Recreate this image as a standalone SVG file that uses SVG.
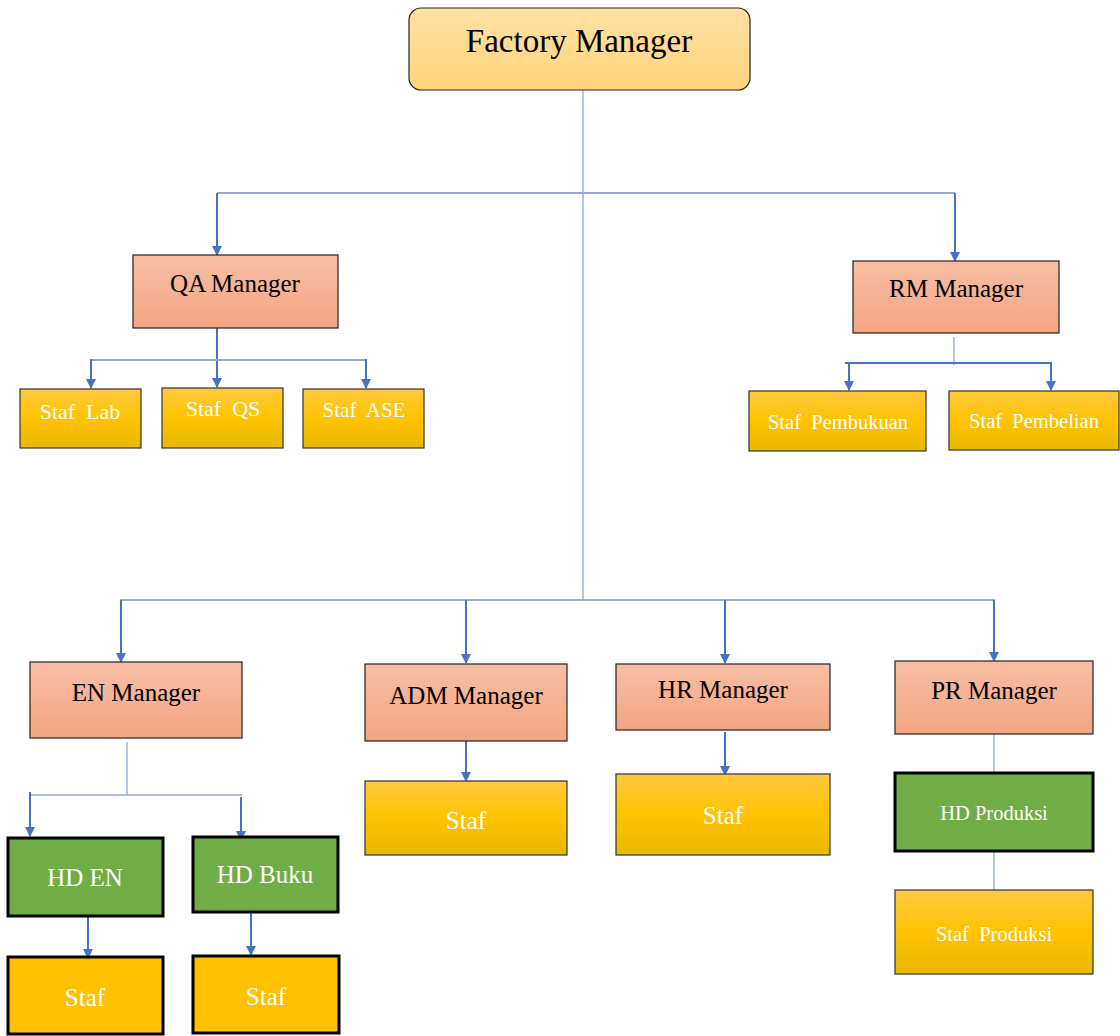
<svg xmlns="http://www.w3.org/2000/svg" width="1120" height="1036" viewBox="0 0 1120 1036">
<defs>
<linearGradient id="gTop" x1="0" y1="0" x2="0" y2="1"><stop offset="0" stop-color="#FFE1A3"/><stop offset="1" stop-color="#FFD47C"/></linearGradient>
<linearGradient id="gMgr" x1="0" y1="0" x2="0" y2="1"><stop offset="0" stop-color="#F7BEA5"/><stop offset="1" stop-color="#F4A583"/></linearGradient>
<linearGradient id="gStaf" x1="0" y1="0" x2="0" y2="1"><stop offset="0" stop-color="#FFC940"/><stop offset="0.5" stop-color="#FFC300"/><stop offset="1" stop-color="#E8B800"/></linearGradient>
<marker id="ah" markerWidth="10" markerHeight="10" refX="9" refY="5" orient="auto" markerUnits="userSpaceOnUse"><path d="M0,0 L10,5 L0,10 Z" fill="#4472C4"/></marker>
</defs>
<style>
.top{fill:url(#gTop);stroke:#222;stroke-width:1.2}
.mgr{fill:url(#gMgr);stroke:#222;stroke-width:1.2}
.staf{fill:url(#gStaf);stroke:#333;stroke-width:1.2}
.hd{fill:#70AD47;stroke:#000;stroke-width:3}
.stafb{fill:#FFC000;stroke:#000;stroke-width:3}
.tb{font-family:"Liberation Serif","Times New Roman",serif;fill:#000;text-anchor:middle}
.tw{font-family:"Liberation Serif","Times New Roman",serif;fill:#fff;text-anchor:middle}
.a{stroke:#4472C4;stroke-width:2;fill:none}
.ar{stroke:#4472C4;stroke-width:2;fill:none;marker-end:url(#ah)}
.t{stroke:#8EA9DB;stroke-width:1.3;fill:none}
.tm{stroke:#8EA9DB;stroke-width:2;fill:none}
</style>
<g id="connectors">
<line class="t" x1="583" y1="90" x2="583" y2="600"/>
<line class="tm" x1="217" y1="193" x2="955" y2="193"/>
<line class="ar" x1="217" y1="193" x2="217" y2="255"/>
<line class="ar" x1="955" y1="193" x2="955" y2="261"/>
<line class="ar" x1="217" y1="328" x2="217" y2="387"/>
<line class="tm" x1="91" y1="360" x2="366" y2="360"/>
<line class="ar" x1="91" y1="359" x2="91" y2="388"/>
<line class="ar" x1="366" y1="359" x2="366" y2="388"/>
<line class="t" x1="954" y1="337" x2="954" y2="365"/>
<line class="a" x1="845" y1="363" x2="1052" y2="363"/>
<line class="ar" x1="849" y1="362" x2="849" y2="390"/>
<line class="ar" x1="1051" y1="362" x2="1051" y2="390"/>
<line class="a" x1="120" y1="600" x2="995" y2="600" style="stroke:#6F95D6;stroke-width:1.5"/>
<line class="ar" x1="121" y1="600" x2="121" y2="662"/>
<line class="ar" x1="466" y1="600" x2="466" y2="663"/>
<line class="ar" x1="725" y1="600" x2="725" y2="663"/>
<line class="ar" x1="994" y1="600" x2="994" y2="661"/>
<line class="t" x1="127" y1="742" x2="127" y2="795"/>
<line class="t" x1="30" y1="795" x2="242" y2="795"/>
<line class="ar" x1="30" y1="792" x2="30" y2="836"/>
<line class="ar" x1="241" y1="797" x2="241" y2="840"/>
<line class="ar" x1="88" y1="916" x2="88" y2="958"/>
<line class="ar" x1="251" y1="912" x2="251" y2="955"/>
<line class="ar" x1="466" y1="739" x2="466" y2="781"/>
<line class="ar" x1="725" y1="732" x2="725" y2="775"/>
<line class="t" x1="994" y1="734" x2="994" y2="773"/>
<line class="t" x1="994" y1="851" x2="994" y2="890"/>
</g>
<g id="factory-manager"><rect class="top" x="409" y="8" width="341" height="82" rx="12"/><text class="tb" x="579" y="52" font-size="33">Factory Manager</text></g>
<g id="qa-manager"><rect class="mgr" x="133" y="255" width="205" height="73"/><text class="tb" x="235" y="292" font-size="25">QA Manager</text></g>
<g id="staf-lab"><rect class="staf" x="20" y="389" width="121" height="59"/><text class="tw" x="80" y="419" font-size="22" xml:space="preserve">Staf  Lab</text></g>
<g id="staf-qs"><rect class="staf" x="162" y="388" width="121" height="60"/><text class="tw" x="223" y="416" font-size="22" xml:space="preserve">Staf  QS</text></g>
<g id="staf-ase"><rect class="staf" x="303" y="389" width="121" height="59"/><text class="tw" x="364" y="417" font-size="21" xml:space="preserve">Staf  ASE</text></g>
<g id="rm-manager"><rect class="mgr" x="853" y="261" width="206" height="72"/><text class="tb" x="956" y="297" font-size="25">RM Manager</text></g>
<g id="staf-pembukuan"><rect class="staf" x="749" y="391" width="177" height="60"/><text class="tw" x="838" y="429" font-size="20.5" xml:space="preserve">Staf  Pembukuan</text></g>
<g id="staf-pembelian"><rect class="staf" x="949" y="391" width="170" height="59"/><text class="tw" x="1034" y="428" font-size="20.5" xml:space="preserve">Staf  Pembelian</text></g>
<g id="en-manager"><rect class="mgr" x="30" y="662" width="212" height="76"/><text class="tb" x="136" y="701" font-size="25">EN Manager</text></g>
<g id="adm-manager"><rect class="mgr" x="365" y="664" width="202" height="77"/><text class="tb" x="466" y="704" font-size="25">ADM Manager</text></g>
<g id="hr-manager"><rect class="mgr" x="616" y="664" width="214" height="66"/><text class="tb" x="723" y="698" font-size="25">HR Manager</text></g>
<g id="pr-manager"><rect class="mgr" x="895" y="661" width="198" height="73"/><text class="tb" x="994" y="699" font-size="25">PR Manager</text></g>
<g id="hd-en"><rect class="hd" x="8" y="838" width="155" height="78"/><text class="tw" x="85" y="886" font-size="25">HD EN</text></g>
<g id="hd-buku"><rect class="hd" x="193" y="837" width="145" height="75"/><text class="tw" x="265" y="883" font-size="25">HD Buku</text></g>
<g id="staf-en"><rect class="stafb" x="8" y="957" width="155" height="77"/><text class="tw" x="85" y="1006" font-size="25">Staf</text></g>
<g id="staf-buku"><rect class="stafb" x="193" y="956" width="146" height="77"/><text class="tw" x="266" y="1005" font-size="25">Staf</text></g>
<g id="staf-adm"><rect class="staf" x="365" y="781" width="202" height="74"/><text class="tw" x="466" y="829" font-size="25">Staf</text></g>
<g id="staf-hr"><rect class="staf" x="616" y="774" width="214" height="81"/><text class="tw" x="723" y="824" font-size="25">Staf</text></g>
<g id="hd-produksi"><rect class="hd" x="895" y="773" width="198" height="78"/><text class="tw" x="994" y="820" font-size="20.5">HD Produksi</text></g>
<g id="staf-produksi"><rect class="staf" x="895" y="890" width="198" height="84"/><text class="tw" x="994" y="941" font-size="20.5" xml:space="preserve">Staf  Produksi</text></g>
</svg>
